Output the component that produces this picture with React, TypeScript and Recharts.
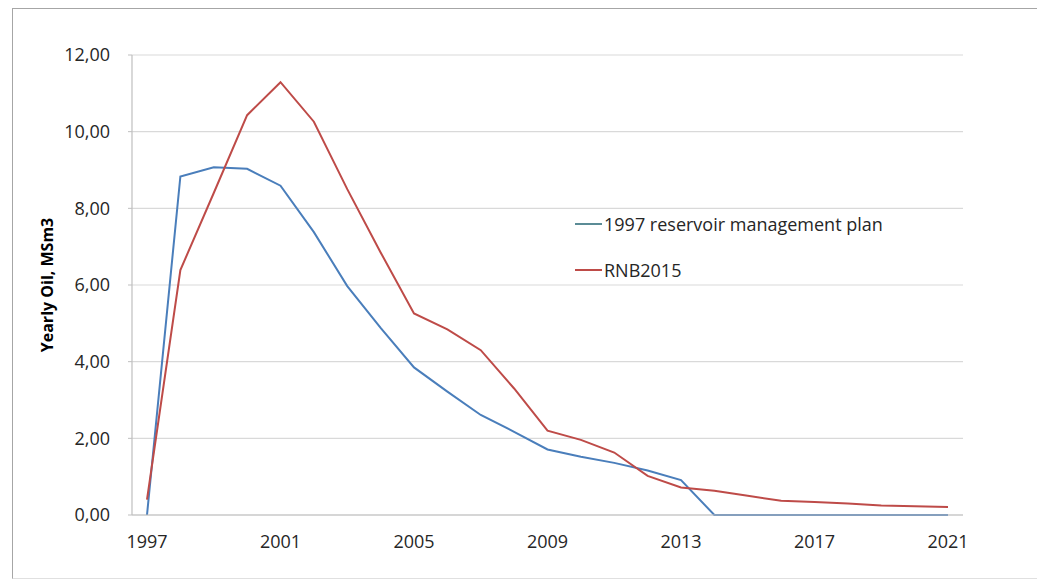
import { CartesianGrid, Line, LineChart, XAxis, YAxis } from "recharts"

const years = [
  "1997", "1998", "1999", "2000", "2001", "2002", "2003", "2004", "2005", "2006", "2007", "2008", "2009",
  "2010", "2011", "2012", "2013", "2014", "2015", "2016", "2017", "2018", "2019", "2020", "2021",
]
const plan1997 = [
  0, 8.83, 9.07, 9.03, 8.59, 7.38, 5.97, 4.88, 3.85, 3.22, 2.61, 2.17, 1.71,
  1.52, 1.36, 1.16, 0.91, 0, 0, 0, 0, 0, 0, 0, 0,
]
const rnb2015 = [
  0.4, 6.39, 8.4, 10.43, 11.29, 10.26, 8.5, 6.85, 5.26, 4.84, 4.3, 3.3, 2.2,
  1.96, 1.63, 1.02, 0.72, 0.63, 0.5, 0.37, 0.34, 0.3, 0.25, 0.23, 0.21,
]
const yTicks = [0, 2, 4, 6, 8, 10, 12]
const xTicks = ["1997", "2001", "2005", "2009", "2013", "2017", "2021"]

const BLUE = "#4a7ebb"
const RED = "#be4b48"
const FONT = "'Open Sans', sans-serif"

const data = years.map((year, i) => ({ year, plan: plan1997[i], rnb: rnb2015[i] }))

// legend sits inside the plot area, so it's drawn as a plain overlay
function LegendBox() {
  const items = [
    { label: "1997 reservoir management plan", color: "#5b8c96" },
    { label: "RNB2015", color: RED },
  ]
  return (
    <div style={{ position: "absolute", left: 575, top: 201, fontFamily: FONT, fontSize: 18, color: "#262626" }}>
      {items.map((it) => (
        <div key={it.label} style={{ display: "flex", alignItems: "center", height: 46 }}>
          <span style={{ display: "inline-block", width: 27, height: 2, background: it.color, marginRight: 2 }} />
          <span>{it.label}</span>
        </div>
      ))}
    </div>
  )
}

function YLabel(props: any) {
  const vb = props.viewBox || { x: 0, y: 0, width: 0, height: 0 }
  const cx = vb.x + 47
  const cy = vb.y + vb.height / 2
  return (
    <text
      x={cx}
      y={cy}
      transform={`rotate(-90, ${cx}, ${cy})`}
      textAnchor="middle"
      dominantBaseline="central"
      fontFamily={FONT}
      fontSize={16}
      fontWeight="bold"
      fill="#000"
    >
      Yearly Oil, MSm3
    </text>
  )
}

export default function App() {
  return (
    <div style={{ position: "absolute", left: 0, top: 0, width: 1037, height: 580, overflow: "hidden", background: "#fff" }}>
      <div
        style={{
          position: "absolute",
          left: 12,
          top: 8,
          width: 1100,
          height: 569,
          borderLeft: "1px solid #a6a6a6",
          borderTop: "1px solid #a6a6a6",
          borderBottom: "1px solid #e0e0e0",
        }}
      />
      <LineChart
        width={1037}
        height={580}
        data={data}
        margin={{ top: 55, right: 74, left: 0, bottom: 35 }}
        style={{ position: "absolute", left: 0, top: 0 }}
      >
        <CartesianGrid vertical={false} stroke="#d9d9d9" strokeWidth={1.2} />
        <XAxis
          dataKey="year"
          type="category"
          ticks={xTicks}
          interval={0}
          height={30}
          padding={{ left: 15, right: 15 }}
          axisLine={{ stroke: "#bfbfbf", strokeWidth: 1.2 }}
          tickLine={false}
          tickSize={4}
          tickMargin={16}
          tick={{ fontFamily: FONT, fontSize: 18, fill: "#262626" }}
        />
        <YAxis
          width={132}
          domain={[0, 12]}
          ticks={yTicks}
          interval={0}
          tickFormatter={(v: number) => v.toFixed(2).replace(".", ",")}
          axisLine={{ stroke: "#bfbfbf", strokeWidth: 1.2 }}
          tickLine={{ stroke: "#bfbfbf" }}
          tickSize={4}
          tickMargin={18}
          tick={{ fontFamily: FONT, fontSize: 18, fill: "#262626" }}
          label={<YLabel />}
        />
        <Line
          type="linear"
          dataKey="plan"
          name="1997 reservoir management plan"
          stroke={BLUE}
          strokeWidth={2}
          dot={false}
          isAnimationActive={false}
        />
        <Line
          type="linear"
          dataKey="rnb"
          name="RNB2015"
          stroke={RED}
          strokeWidth={2}
          dot={false}
          isAnimationActive={false}
        />
      </LineChart>
      <LegendBox />
    </div>
  )
}
